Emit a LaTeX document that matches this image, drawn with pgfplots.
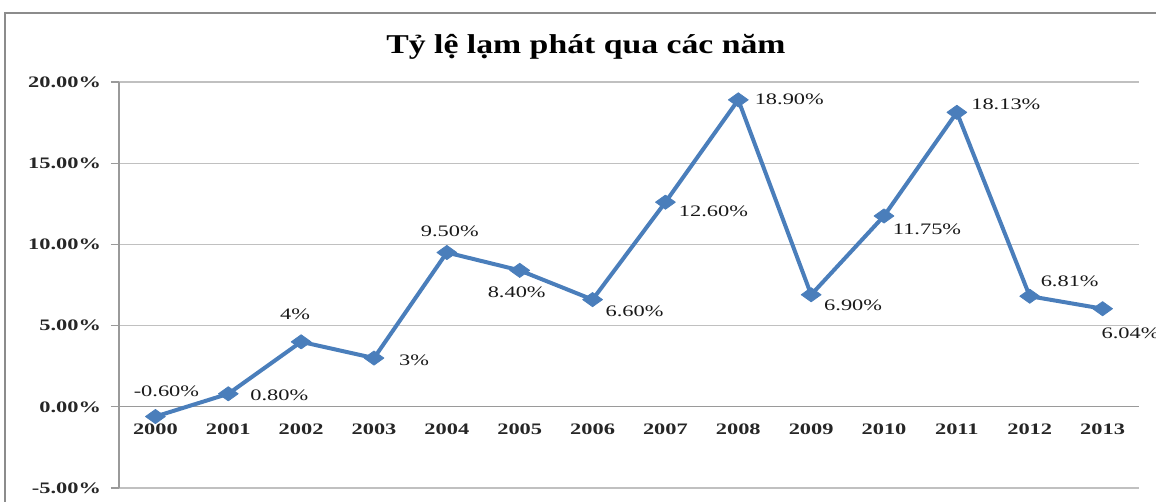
\documentclass[border=0pt]{standalone}
\usepackage{pgfplots}
\pgfplotsset{compat=1.18}
\usepackage{fontspec}
\setmainfont{Liberation Serif}
\newfontfamily\wide{Liberation Serif}[FakeStretch=1.4]
\newfontfamily\titlefont{Liberation Serif}[FakeStretch=1.24]
\definecolor{lineblue}{HTML}{4A7EBB}
\definecolor{gridgray}{HTML}{C0C0C0}
\definecolor{axisgray}{HTML}{9A9A9A}
\definecolor{framegray}{HTML}{8C8C8C}
\begin{document}
\begin{tikzpicture}[x=1pt,y=1pt]
\draw[framegray, line width=1pt] (2.5,-10) -- (2.5,244.5) -- (590,244.5);
\node[font=\titlefont\bfseries\fontsize{13.6}{15}\selectfont, anchor=base] at (293,224) {Tỷ lệ lạm phát qua các năm};
\begin{axis}[
  at={(59.5pt,7pt)}, anchor=south west,
  width=510pt, height=203pt, scale only axis,
  xmin=-0.5, xmax=13.5, ymin=-5, ymax=20,
  axis x line*=middle, axis y line*=left,
  axis line style={axisgray, line width=0.6pt},
  ymajorgrids, grid style={gridgray, line width=0.6pt},
  ytick={-5,0,5,10,15,20},
  yticklabels={-5.00\%,0.00\%,5.00\%,10.00\%,15.00\%,20.00\%},
  xtick={0,...,13},
  xticklabels={2000,2001,2002,2003,2004,2005,2006,2007,2008,2009,2010,2011,2012,2013},
  tick align=outside,
  ytick style={axisgray, line width=0.6pt},
  major tick length=4pt,
  xtick style={draw=none},
  extra x ticks={-0.5,0.5,...,13.5},
  extra x tick labels={},
  extra x tick style={grid=none, major tick length=2pt, tick style={draw=axisgray, line width=0.6pt}},
  tick label style={font=\wide\bfseries\fontsize{8}{9}\selectfont, text=black!85},
  yticklabel style={xshift=-1.5pt},
  xticklabel style={yshift=-1pt},
  clip=false,
]
\addplot[lineblue, line width=2pt, line join=round,
  mark=square*, mark size=2.5pt,
  mark options={xscale=1.4, rotate=45, fill=lineblue, draw=lineblue, line width=0.4pt},
  nodes near coords={\pgfplotspointmeta\%},
  point meta=explicit symbolic,
  visualization depends on={value \thisrow{dx}\as\lx},
  visualization depends on={value \thisrow{dy}\as\ly},
  every node near coord/.append style={anchor=center, xshift=\lx pt, yshift=\ly pt,
     font=\wide\fontsize{8}{9}\selectfont, text=black!90, inner sep=0pt},
] table[x=x, y=y, meta=lab] {
x y dx dy lab
0 -0.6 5.5 12.5 -0.60
1 0.8 25.5 -0.5 0.80
2 4 -3 14 4
3 3 20 -1 3
4 9.5 1.5 10.5 9.50
5 8.4 -1.5 -11 8.40
6 6.6 21 -6 6.60
7 12.6 24 -4.5 12.60
8 18.9 25.5 0.5 18.90
9 6.9 21 -5.5 6.90
10 11.75 21.5 -6.5 11.75
11 18.13 24.5 4 18.13
12 6.81 20 7.5 6.81
13 6.04 14 -12.5 6.04
};
\end{axis}
\pgfresetboundingbox
\useasboundingbox (0,0) rectangle (578,251);
\end{tikzpicture}
\end{document}
